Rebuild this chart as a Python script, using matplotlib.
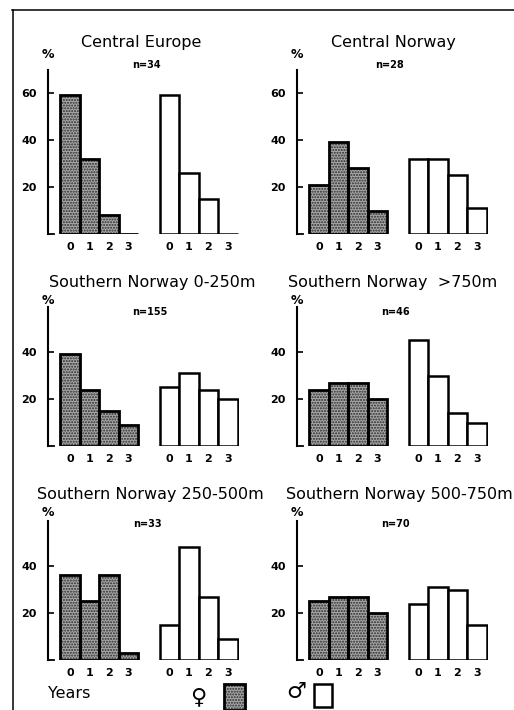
import matplotlib.pyplot as plt
from matplotlib.patches import Rectangle
from matplotlib.lines import Line2D

plt.rcParams.update({
    "font.family": "DejaVu Sans",
    "axes.linewidth": 1.5,
})

W, H = 514, 710

# -----------------------------
# Data (% of individuals per age class, years 0-3)
# -----------------------------
years = ["0", "1", "2", "3"]
titles = ["Central Europe", "Central Norway",
          "Southern Norway 0-250m", "Southern Norway  >750m",
          "Southern Norway 250-500m", "Southern Norway 500-750m"]
n_labels = ["n=34", "n=28", "n=155", "n=46", "n=33", "n=70"]

fem_ce = [59, 32, 8, 0]
mal_ce = [59, 26, 15, 0]
fem_cn = [21, 39, 28, 10]
mal_cn = [32, 32, 25, 11]
fem_s0 = [39, 24, 15, 9]
mal_s0 = [25, 31, 24, 20]
fem_s750 = [24, 27, 27, 20]
mal_s750 = [45, 30, 14, 10]
fem_s250 = [36, 25, 36, 3]
mal_s250 = [15, 48, 27, 9]
fem_s500 = [25, 27, 27, 20]
mal_s500 = [24, 31, 30, 15]

females = [fem_ce, fem_cn, fem_s0, fem_s750, fem_s250, fem_s500]
males = [mal_ce, mal_cn, mal_s0, mal_s750, mal_s250, mal_s500]
yticks = [[20, 40, 60], [20, 40, 60], [20, 40], [20, 40], [20, 40], [20, 40]]
ytops = [70, 70, 59, 59, 59, 59]

# -----------------------------
# Layout in pixels
# -----------------------------
col_axis_x = [48, 297]
row_base_y = [234, 446, 660]
title_y = [42, 283, 495]
pct_y = [55, 301, 512]
n_y = [65, 312, 524]
title_cx = [[141, 393], [152, 393], [150, 399]]
n_cx = [[146, 390], [150, 395], [147, 395]]

px_per_unit_x = 19.5
px_per_unit_y = 2.35
x0 = -1.12
x1 = 8.7
male_shift = 5.1

gray = "#a8a8a8"


def fx(x):
    return x / W


def fy(y):
    return 1 - y / H


fig = plt.figure(figsize=(W / 100, H / 100), dpi=100)

# outer frame (top and left edges)
fig.add_artist(Line2D([fx(12), fx(514)], [fy(10), fy(10)], color="black", lw=1.1))
fig.add_artist(Line2D([fx(13), fx(13)], [fy(10), fy(710)], color="black", lw=1.1))

xf = [0, 1, 2, 3]
xm = [v + male_shift for v in xf]

for i in range(6):
    r, c = divmod(i, 2)
    ax_x = col_axis_x[c]
    base = row_base_y[r]
    top = ytops[i]
    wpx = (x1 - x0) * px_per_unit_x
    hpx = top * px_per_unit_y
    ax = fig.add_axes([fx(ax_x), fy(base), wpx / W, hpx / H])
    ax.set_xlim(x0, x1)
    ax.set_ylim(0, top)
    ax.patch.set_alpha(0)

    # stippled female bars
    ax.bar(xf, females[i], width=1.0, color=gray, hatch="......",
           edgecolor="#2a2a2a", linewidth=0, zorder=2)
    ax.bar(xf, females[i], width=1.0, fill=False, edgecolor="black",
           linewidth=2.0, zorder=3)
    # open male bars
    ax.bar(xm, males[i], width=1.0, color="white", edgecolor="black",
           linewidth=1.8, zorder=3)

    for s in ["top", "right", "bottom"]:
        ax.spines[s].set_visible(False)
    ax.plot([x0, x0 + 0.3], [0, 0], color="black", lw=1.3, clip_on=False)

    ax.set_yticks(yticks[i])
    ax.tick_params(axis="y", direction="in", length=4, width=1.2, pad=8,
                   labelsize=8)
    for lab in ax.get_yticklabels():
        lab.set_fontweight("bold")
    ax.set_xticks(xf + xm)
    ax.set_xticklabels(years + years, fontsize=8, fontweight="bold")
    ax.tick_params(axis="x", length=0, pad=6)

    fig.text(fx(title_cx[r][c]), fy(title_y[r]), titles[i], fontsize=11.5,
             ha="center", va="center")
    fig.text(fx(ax_x), fy(pct_y[r]), "%", fontsize=9, fontweight="bold",
             ha="center", va="center")
    fig.text(fx(n_cx[r][c]), fy(n_y[r]), n_labels[i], fontsize=7,
             fontweight="bold", ha="center", va="center")

# legend row
fig.text(fx(48), fy(693), "Years", fontsize=11.5, ha="left", va="center")
fig.text(fx(198), fy(697), "\u2640", fontsize=16, ha="center", va="center")
fig.add_artist(Rectangle((fx(224), fy(710)), fx(21), 26 / H, transform=fig.transFigure,
                         facecolor=gray, hatch="......", edgecolor="#2a2a2a", lw=0))
fig.add_artist(Rectangle((fx(224), fy(710)), fx(21), 26 / H, transform=fig.transFigure,
                         fill=False, edgecolor="black", lw=2.0))
fig.text(fx(296), fy(692), "\u2642", fontsize=16, ha="center", va="center")
fig.add_artist(Rectangle((fx(314), fy(707)), fx(18), 23 / H, transform=fig.transFigure,
                         facecolor="white", edgecolor="black", lw=1.8))

fig.savefig("out.png", dpi=100)
